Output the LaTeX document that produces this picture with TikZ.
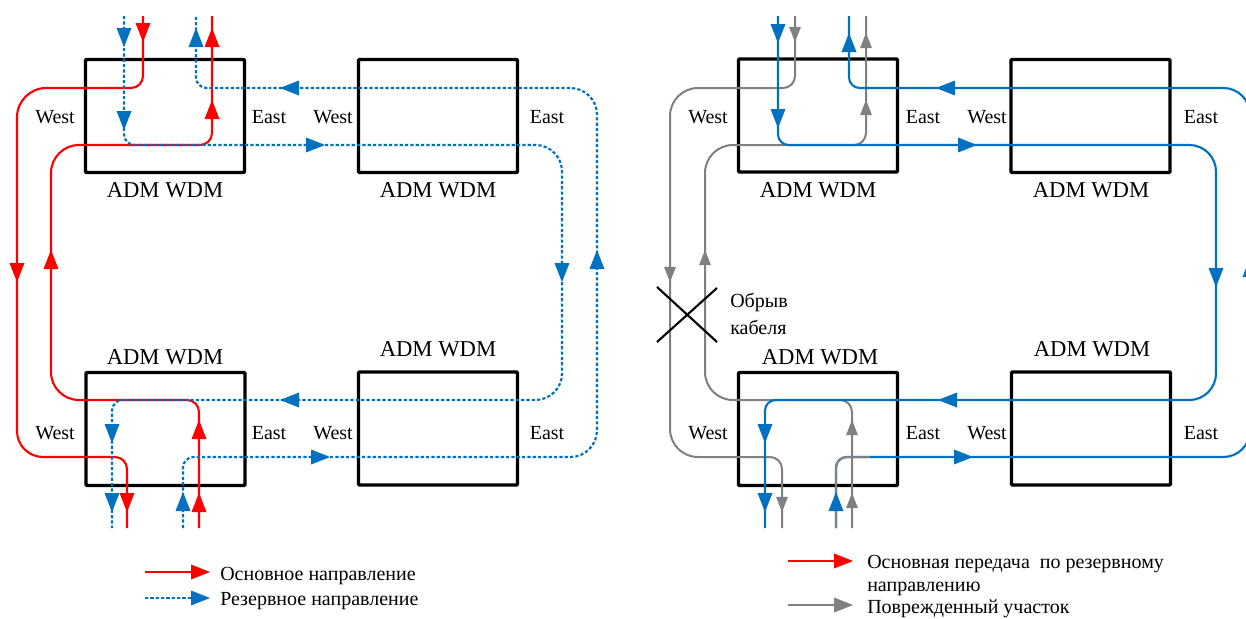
\documentclass[tikz,border=0pt]{standalone}
\usepackage{fontspec}
\setmainfont{Liberation Serif}
\usetikzlibrary{arrows.meta}
\definecolor{myblue}{HTML}{0070C0}
\definecolor{mygray}{HTML}{808080}
\definecolor{myred}{HTML}{FF0000}
\begin{document}
\begin{tikzpicture}[x=0.75pt,y=-0.75pt,
  adm/.style={draw=black, line width=2.6pt, minimum width=119.25pt, minimum height=84.75pt, inner sep=0pt, outer sep=0pt, rounded corners=0.8pt},
  lbl/.style={font=\fontsize{15}{18}\selectfont, inner sep=0pt},
  admcap/.style={font=\fontsize{17}{20}\selectfont, inner sep=0pt},
  redl/.style={draw=myred, line width=1.6pt},
  bluedot/.style={draw=myblue, line width=1.6pt, dash pattern=on 2.4pt off 1.6pt},
  bluel/.style={draw=myblue, line width=1.6pt},
  grayl/.style={draw=mygray, line width=1.5pt},
  xmark/.style={draw=black, line width=1.6pt},
  tipd/.pic={\fill (0,0) -- (-7.5,-19) -- (7.5,-19) -- cycle;},
  tipu/.pic={\fill (0,0) -- (-7.5,19) -- (7.5,19) -- cycle;},
  tipr/.pic={\fill (0,0) -- (-19,-7.5) -- (-19,7.5) -- cycle;},
  tipl/.pic={\fill (0,0) -- (19,-7.5) -- (19,7.5) -- cycle;},
]
\fill[white] (0,0) rectangle (1246,618);
\useasboundingbox (0,0) rectangle (1246,618);
\clip (0,0) rectangle (1246,618);

% ---------- boxes ----------
\node[adm] (LTL) at (165,116) {};
\node[adm] (LTR) at (438,116) {};
\node[adm] (LBL) at (165.5,429) {};
\node[adm] (LBR) at (438,428.5) {};
\node[adm] (RTL) at (818,115.5) {};
\node[adm] (RTR) at (1090.5,116) {};
\node[adm] (RBL) at (818,429) {};
\node[adm] (RBR) at (1091,428.5) {};

% ---------- labels ----------
\node[lbl] (w1) at (55,117) {West};
\node[lbl] (e1) at (269,117) {East};
\node[lbl] (w2) at (333,117) {West};
\node[lbl] (e2) at (547,117) {East};
\node[lbl] (w3) at (55,433) {West};
\node[lbl] (e3) at (269,433) {East};
\node[lbl] (w4) at (333,433) {West};
\node[lbl] (e4) at (547,433) {East};
\node[lbl] (w5) at (708,117) {West};
\node[lbl] (e5) at (923,117) {East};
\node[lbl] (w6) at (987,117) {West};
\node[lbl] (e6) at (1201,117) {East};
\node[lbl] (w7) at (708,433) {West};
\node[lbl] (e7) at (923,433) {East};
\node[lbl] (w8) at (987,433) {West};
\node[lbl] (e8) at (1201,433) {East};

\node[admcap] (c1) at (165,190) {ADM WDM};
\node[admcap] (c2) at (438,190) {ADM WDM};
\node[admcap] (c3) at (165,357) {ADM WDM};
\node[admcap] (c4) at (438,349) {ADM WDM};
\node[admcap] (c5) at (818,190) {ADM WDM};
\node[admcap] (c6) at (1091,190) {ADM WDM};
\node[admcap] (c7) at (820,357) {ADM WDM};
\node[admcap] (c8) at (1092,349) {ADM WDM};

% ---------- end coordinates ----------
\coordinate (rA1) at (143,16);  \coordinate (rA2) at (127,528);
\coordinate (rB1) at (199,528); \coordinate (rB2) at (212,16);
\coordinate (bC1) at (124,16);  \coordinate (bC2) at (112,528);
\coordinate (bD1) at (183,528); \coordinate (bD2) at (196,16);
\coordinate (bE1) at (778,16);  \coordinate (bE2) at (765,528);
\coordinate (bF1) at (836,528); \coordinate (bF2) at (849,16);
\coordinate (gG1) at (795,16);  \coordinate (gG2) at (782,528);
\coordinate (gH1) at (852,528); \coordinate (gH2) at (866,16);
\coordinate (gI2) at (870,457);

% ---------- left diagram ----------
\draw[redl] (rA1) [rounded corners=9pt] -- (143,88) [rounded corners=22pt] -- (17,88) [rounded corners=19.5pt] -- (17,457) [rounded corners=9pt] -- (127,457) -- (rA2);
\draw[redl] (rB1) [rounded corners=9pt] -- (199,400) [rounded corners=21pt] -- (51,400) [rounded corners=21pt] -- (51,145) [rounded corners=9pt] -- (212,145) -- (rB2);
\draw[bluedot] (bC1) [rounded corners=8pt] -- (124,145) [rounded corners=20pt] -- (562,145) [rounded corners=20pt] -- (562,400) [rounded corners=8pt] -- (112,400) -- (bC2);
\draw[bluedot] (bD1) [rounded corners=8pt] -- (183,457) [rounded corners=20pt] -- (597,457) [rounded corners=20pt] -- (597,88) [rounded corners=8pt] -- (196,88) -- (bD2);

\foreach \p/\d in {{143,42}/tipd,{17,282}/tipd,{127,512}/tipd,{199,493}/tipu,{199,420}/tipu,{51,250}/tipu,{212,100}/tipu,{212,28}/tipu}
  \pic[myred] at (\p) {\d};
\foreach \p/\d in {{124,47}/tipd,{124,130}/tipd,{325,145}/tipr,{562,282}/tipd,{280,400}/tipl,{112,443}/tipd,{112,512}/tipd,{183,492}/tipu,{330,457}/tipr,{597,250}/tipu,{280,88}/tipl,{196,28}/tipu}
  \pic[myblue] at (\p) {\d};

% ---------- right diagram ----------
\draw[grayl] (gG1) [rounded corners=9pt] -- (795,88) [rounded corners=21pt] -- (670,88) [rounded corners=21pt] -- (670,457) [rounded corners=9pt] -- (782,457) -- (gG2);
\draw[grayl] (gH1) [rounded corners=9pt] -- (852,400) [rounded corners=21pt] -- (705,400) [rounded corners=21pt] -- (705,145) [rounded corners=9pt] -- (866,145) -- (gH2);
\draw[bluel] (bE1) [rounded corners=8pt] -- (778,145) [rounded corners=20pt] -- (1216,145) [rounded corners=20pt] -- (1216,400) [rounded corners=8pt] -- (765,400) -- (bE2);
\draw[bluel] (bF1) [rounded corners=8pt] -- (836,457) [rounded corners=20pt] -- (1250,457) [rounded corners=20pt] -- (1250,88) [rounded corners=8pt] -- (849,88) -- (bF2);
\draw[grayl] (bF1) [rounded corners=8pt] -- (836,457) -- (gI2);

\foreach \p/\d in {{795,42}/tipd,{670,282}/tipd,{782,512}/tipd,{852,493}/tipu,{852,420}/tipu,{705,250}/tipu,{866,100}/tipu,{866,33}/tipu}
  \pic[mygray, scale=0.8] at (\p) {\d};
\foreach \p/\d in {{778,43}/tipd,{778,128}/tipd,{977,145}/tipr,{1216,287}/tipd,{938,400}/tipl,{765,443}/tipd,{765,512}/tipd,{836,492}/tipu,{973,457}/tipr,{1250,258}/tipu,{936,88}/tipl,{849,33}/tipu}
  \pic[myblue] at (\p) {\d};

% cable break
\coordinate (x1) at (657,287); \coordinate (x2) at (717,342);
\coordinate (x3) at (717,288); \coordinate (x4) at (657,342);
\draw[xmark] (x1) -- (x2);
\draw[xmark] (x3) -- (x4);
\node[lbl, anchor=base west] (ob1) at (730,307) {Обрыв};
\node[lbl, anchor=base west] (ob2) at (730,334) {кабеля};

% ---------- legends ----------
\coordinate (lg1) at (145,572); \coordinate (lg1e) at (205,572);
\coordinate (lg2) at (145,598); \coordinate (lg2e) at (195,598);
\draw[redl] (lg1) -- (lg1e);
\pic[myred] at (210,572) {tipr};
\draw[bluedot] (lg2) -- (lg2e);
\pic[myblue] at (210,598) {tipr};
\node[lbl, anchor=base west] (t1) at (220,580) {Основное направление};
\node[lbl, anchor=base west] (t2) at (220,605) {Резервное направление};

\coordinate (lg3) at (788,561); \coordinate (lg3e) at (848,561);
\coordinate (lg4) at (788,605); \coordinate (lg4e) at (848,605);
\draw[redl] (lg3) -- (lg3e);
\pic[myred] at (853,561) {tipr};
\draw[grayl] (lg4) -- (lg4e);
\pic[mygray] at (853,605) {tipr};
\node[lbl, anchor=base west] (t3) at (867,568) {Основная передача\ \ по резервному};
\node[lbl, anchor=base west] (t4) at (867,591) {направлению};
\node[lbl, anchor=base west] (t5) at (867,613) {Поврежденный участок};
\end{tikzpicture}
\end{document}
